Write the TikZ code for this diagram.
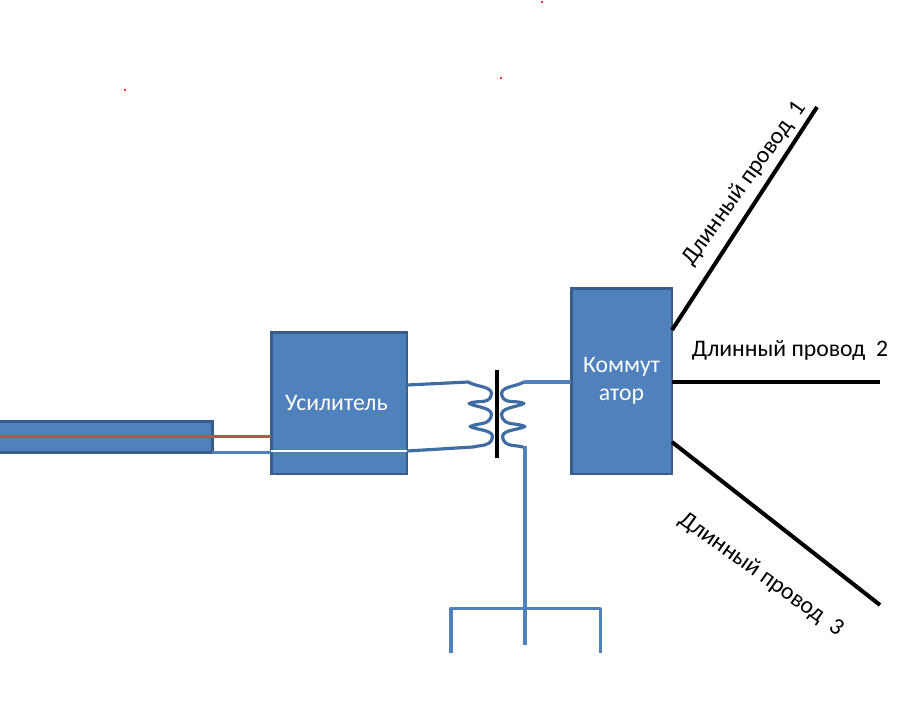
\documentclass[tikz,border=0pt]{standalone}
\usepackage{fontspec}
\setmainfont{Carlito}
\tikzset{
	blockbox/.style={draw=blockedge, fill=blockfill, line width=1.7pt, outer sep=0pt, inner sep=0pt, text=white, align=center},
	wire/.style={draw=blockfill, line width=1.72pt},
	coilwire/.style={draw=coilblue, line width=1.8pt, line join=round},
	longwire/.style={draw=black, line width=2.3pt},
	wirelabel/.style={inner sep=0pt},
}
\definecolor{blockfill}{HTML}{4F81BD}
\definecolor{blockedge}{HTML}{385D8A}
\definecolor{coilblue}{HTML}{3F6CA3}
\definecolor{redwire}{HTML}{C0504D}

\begin{document}
\begin{tikzpicture}[x=0.02cm, y=-0.02cm, font=\fontsize{13.5}{16}\selectfont]

% page %{{{2

	\clip (0,0) rectangle (898,707);

% blocks %{{{2

	\node[blockbox, minimum width=2.72cm, minimum height=2.84cm] (amp) at (339,403) {\hspace*{-3pt}Усилитель};
	\node[blockbox, minimum width=2.02cm, minimum height=3.72cm] (switch) at (621.5,381) {Коммут\\атор};
	\node[blockbox, minimum width=4.5cm, minimum height=0.62cm] (cable) at (100,436.5) {};

% coordinates %{{{2

	\coordinate (Lup) at (468,382);
	\coordinate (Ldown) at (473,447);
	\coordinate (Rup) at (524,382);
	\coordinate (Rdown) at (523,447);
	\coordinate (Ftop) at (525,608);
	\coordinate (Fleft) at (451,653);
	\coordinate (Fmid) at (525,645);
	\coordinate (Fright) at (600,653);
	\coordinate (end1) at (817,107);
	\coordinate (end2) at (880,382);
	\coordinate (end3) at (880,605);

% cable and amplifier wires %{{{2

	\draw[draw=redwire, line width=1.72pt] (-5,436) -- (amp.west |- 0,436);
	\draw[wire] (cable.east |- 0,452) -- (amp.west |- 0,452);
	\draw[draw=white, line width=1.3pt] (amp.west |- 0,451) -- (amp.east |- 0,451);

% transformer %{{{2

	\draw[coilwire] (amp.east |- 0,385) -- (Lup)
		to[out=-30,in=70] (491,396) to[out=-110,in=25] (469,403.5)
		to[out=-25,in=70] (491,417) to[out=-110,in=25] (470,426.5)
		to[out=-25,in=70] (492,439) to[out=-110,in=15] (Ldown)
		-- (amp.east |- 0,451);
	\draw[coilwire] (Rup)
		to[out=210,in=110] (502,396) to[out=-70,in=155] (524,403.5)
		to[out=205,in=110] (502,417) to[out=-70,in=155] (525,426.5)
		to[out=205,in=110] (503,439) to[out=-70,in=165] (Rdown);
	\draw[wire] (Rup) -- (switch.west |- Rup);
	\draw[draw=black, line width=2.1pt] (497,370) -- (497,458);

% feeder %{{{2

	\draw[wire] (Rdown) -| (Fmid);
	\draw[wire, line join=round] (Fleft) -- (Fleft |- Ftop) -- (Fright |- Ftop) -- (Fright);

% long wires %{{{2

	\draw[longwire] (switch.east |- 0,330) -- (end1);
	\draw[longwire] (switch.east |- end2) -- (end2);
	\draw[longwire] (switch.east |- 0,442) -- (end3);

% labels %{{{2

	\node[wirelabel, rotate=54.5] (label1) at (744.5,183.5) {Длинный провод\ \ 1};
	\node[wirelabel] (label2) at (790,350) {Длинный провод\ \ 2};
	\node[wirelabel, rotate=-35.5] (label3) at (761,574.5) {Длинный провод\ \ 3};

% red specks %{{{2

	\foreach \x/\y in {125/90, 501/78, 542/2} {
		\fill[red!80!black] (\x,\y) circle (1.2);
	}

% closing %{{{2

\end{tikzpicture}
\end{document}
